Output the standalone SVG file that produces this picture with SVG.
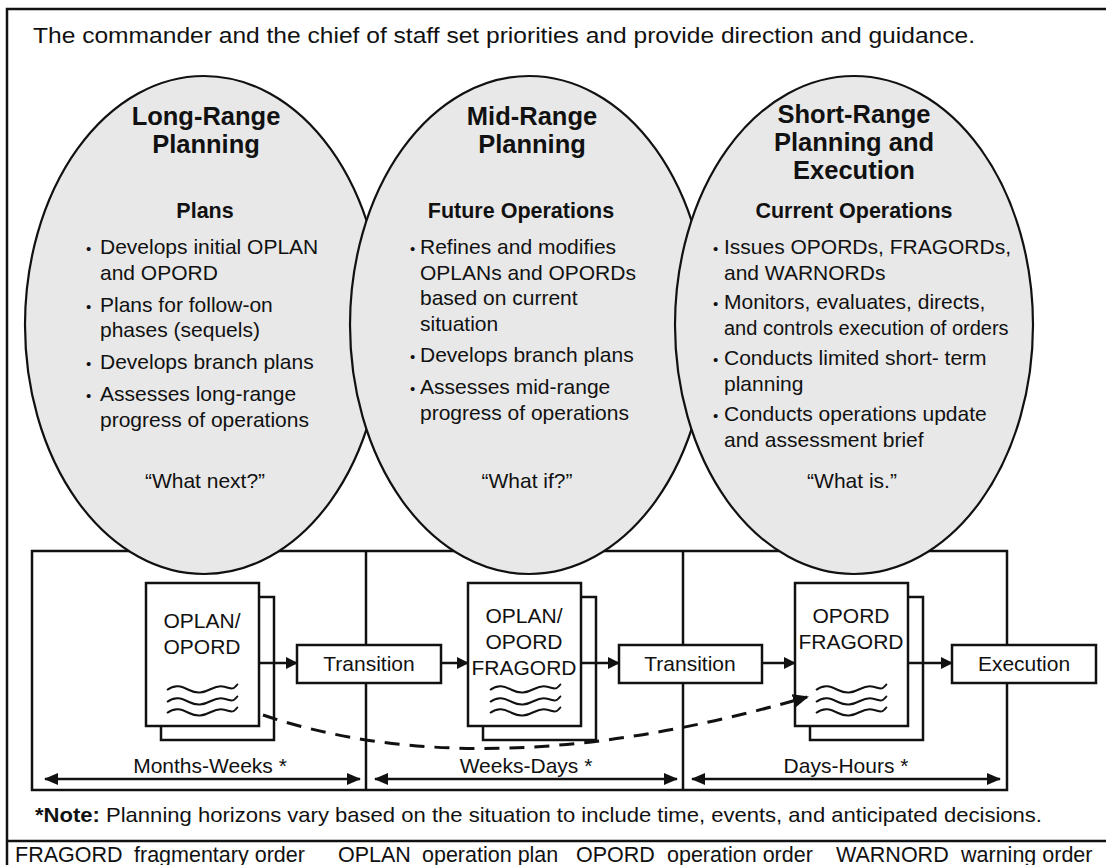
<svg xmlns="http://www.w3.org/2000/svg" width="1106" height="865" viewBox="0 0 1106 865">
<defs>
<style>
text{font-family:"Liberation Sans",Arial,sans-serif;fill:#111;}
.t{font-size:21px;}
.lg{font-size:21.5px;}
.h{font-size:25.5px;font-weight:bold;text-anchor:middle;}
.s{font-size:21.5px;font-weight:bold;text-anchor:middle;}
.c{text-anchor:middle;}
.bu{font-size:15px;}
.ell{fill:#e8e8e8;stroke:#111;stroke-width:2.2;}
.box{fill:#fff;stroke:#111;stroke-width:2.5;}
.ln{fill:none;stroke:#111;stroke-width:2.5;}
.wav{fill:none;stroke:#111;stroke-width:2;}
.dash{fill:none;stroke:#111;stroke-width:3;stroke-dasharray:15 10;}
</style>
<marker id="ah" viewBox="0 0 12 12" refX="11" refY="6" markerWidth="12" markerHeight="12" markerUnits="userSpaceOnUse" orient="auto-start-reverse"><path d="M0,0 L12,6 L0,12 z" fill="#111"/></marker>
<marker id="ah2" viewBox="0 0 14 12" refX="13" refY="6" markerWidth="14" markerHeight="12" markerUnits="userSpaceOnUse" orient="auto-start-reverse"><path d="M0,0 L14,6 L0,12 z" fill="#111"/></marker>
<marker id="ahd" viewBox="0 0 16 14" refX="14" refY="7" markerWidth="16" markerHeight="14" markerUnits="userSpaceOnUse" orient="auto"><path d="M0,0 L16,7 L0,14 z" fill="#111"/></marker>
<path id="wave" d="M0,2 c8,-6 14,-4 22,0 s14,3 22,-1 s12,-3 18,-1 s6,-2 9,-4" class="wav"/>
</defs>
<rect width="1106" height="865" fill="#fff"/>
<g id="frame">
<path d="M1106,9 H7 V865" class="ln"/>
<line x1="7" y1="841" x2="1106" y2="841" class="ln"/>
</g>
<text id="title" x="33" y="43" class="t" style="font-size:22.5px" textLength="942" lengthAdjust="spacingAndGlyphs">The commander and the chief of staff set priorities and provide direction and guidance.</text>
<g id="timeline-box">
<rect x="32" y="551" width="975" height="239" class="ln"/>
<line x1="366" y1="551" x2="366" y2="790" class="ln"/>
<line x1="683" y1="551" x2="683" y2="790" class="ln"/>
</g>
<g id="long-range">
<ellipse cx="204" cy="325" rx="179" ry="249" class="ell"/>
<text x="206" y="125" class="h">Long-Range</text>
<text x="206" y="153" class="h">Planning</text>
<text x="205" y="218" class="s">Plans</text>
<text class="t" y="254"><tspan x="86" class="bu">•</tspan><tspan x="100">Develops initial OPLAN</tspan></text>
<text class="t" x="100" y="279.5">and OPORD</text>
<text class="t" y="311.5"><tspan x="86" class="bu">•</tspan><tspan x="100">Plans for follow-on</tspan></text>
<text class="t" x="100" y="337">phases (sequels)</text>
<text class="t" y="369"><tspan x="86" class="bu">•</tspan><tspan x="100">Develops branch plans</tspan></text>
<text class="t" y="401"><tspan x="86" class="bu">•</tspan><tspan x="100">Assesses long-range</tspan></text>
<text class="t" x="100" y="426.5">progress of operations</text>
<text class="t c" x="205" y="488">“What next?”</text>
</g>
<g id="mid-range">
<ellipse cx="529" cy="325" rx="179" ry="249" class="ell"/>
<text x="532" y="125" class="h">Mid-Range</text>
<text x="532" y="153" class="h">Planning</text>
<text x="521" y="218" class="s">Future Operations</text>
<text class="t" y="254"><tspan x="410" class="bu">•</tspan><tspan x="420">Refines and modifies</tspan></text>
<text class="t" x="420" y="279.5">OPLANs and OPORDs</text>
<text class="t" x="420" y="305">based on current</text>
<text class="t" x="420" y="330.5">situation</text>
<text class="t" y="362"><tspan x="410" class="bu">•</tspan><tspan x="420">Develops branch plans</tspan></text>
<text class="t" y="394"><tspan x="410" class="bu">•</tspan><tspan x="420">Assesses mid-range</tspan></text>
<text class="t" x="420" y="419.5">progress of operations</text>
<text class="t c" x="527" y="488">“What if?”</text>
</g>
<g id="short-range">
<ellipse cx="854" cy="325" rx="179" ry="249" class="ell"/>
<text x="854" y="123" class="h">Short-Range</text>
<text x="854" y="151" class="h">Planning and</text>
<text x="854" y="179" class="h">Execution</text>
<text x="854" y="218" class="s">Current Operations</text>
<text class="t" y="254"><tspan x="713" class="bu">•</tspan><tspan x="724">Issues OPORDs, FRAGORDs,</tspan></text>
<text class="t" x="724" y="279.5">and WARNORDs</text>
<text class="t" y="309"><tspan x="713" class="bu">•</tspan><tspan x="724">Monitors, evaluates, directs,</tspan></text>
<text class="t" x="724" y="334.5" style="font-size:20px">and controls execution of orders</text>
<text class="t" y="365"><tspan x="713" class="bu">•</tspan><tspan x="724">Conducts limited short- term</tspan></text>
<text class="t" x="724" y="390.5">planning</text>
<text class="t" y="421"><tspan x="713" class="bu">•</tspan><tspan x="724">Conducts operations update</tspan></text>
<text class="t" x="724" y="446.5">and assessment brief</text>
<text class="t c" x="852" y="488">“What is.”</text>
</g>
<g id="doc1">
<rect x="161" y="597" width="113" height="143" class="box"/>
<rect x="146" y="583" width="113" height="143" class="box"/>
<text class="t c" x="202" y="628">OPLAN/</text>
<text class="t c" x="202" y="654">OPORD</text>
<use href="#wave" x="167" y="688"/>
<use href="#wave" x="167" y="700"/>
<use href="#wave" x="167" y="711"/>
</g>
<g id="transition1">
<rect x="297" y="645" width="144" height="38" class="box"/>
<text class="t c" x="369" y="671">Transition</text>
</g>
<g id="doc2">
<rect x="483" y="597" width="113" height="143" class="box"/>
<rect x="468" y="583" width="113" height="143" class="box"/>
<text class="t c" x="524" y="623">OPLAN/</text>
<text class="t c" x="524" y="649">OPORD</text>
<text class="t c" x="524" y="675">FRAGORD</text>
<use href="#wave" x="490" y="688"/>
<use href="#wave" x="490" y="700"/>
<use href="#wave" x="490" y="711"/>
</g>
<g id="transition2">
<rect x="619" y="645" width="143" height="38" class="box"/>
<text class="t c" x="690" y="671">Transition</text>
</g>
<g id="doc3">
<rect x="810" y="597" width="113" height="143" class="box"/>
<rect x="795" y="583" width="113" height="143" class="box"/>
<text class="t c" x="851" y="623">OPORD</text>
<text class="t c" x="851" y="649">FRAGORD</text>
<use href="#wave" x="816" y="688"/>
<use href="#wave" x="816" y="700"/>
<use href="#wave" x="816" y="711"/>
</g>
<g id="execution">
<rect x="952" y="645" width="144" height="38" class="box"/>
<text class="t c" x="1024" y="671">Execution</text>
</g>
<g id="connectors">
<line x1="259" y1="663" x2="297" y2="663" class="ln" marker-end="url(#ah)"/>
<line x1="441" y1="663" x2="468" y2="663" class="ln" marker-end="url(#ah)"/>
<line x1="581" y1="663" x2="619" y2="663" class="ln" marker-end="url(#ah)"/>
<line x1="762" y1="663" x2="795" y2="663" class="ln" marker-end="url(#ah)"/>
<line x1="908" y1="663" x2="952" y2="663" class="ln" marker-end="url(#ah)"/>
<path d="M263,715 Q486,790 807,697" class="dash" marker-end="url(#ahd)"/>
<line x1="45" y1="779" x2="360" y2="779" class="ln" marker-start="url(#ah2)" marker-end="url(#ah2)"/>
<line x1="375" y1="779" x2="677" y2="779" class="ln" marker-start="url(#ah2)" marker-end="url(#ah2)"/>
<line x1="692" y1="779" x2="1000" y2="779" class="ln" marker-start="url(#ah2)" marker-end="url(#ah2)"/>
</g>
<g id="horizons">
<text class="t c" x="210" y="773">Months-Weeks *</text>
<text class="t c" x="526" y="773">Weeks-Days *</text>
<text class="t c" x="846" y="773">Days-Hours *</text>
</g>
<text id="note" class="t" x="35" y="822" textLength="1007" lengthAdjust="spacingAndGlyphs"><tspan font-weight="bold">*Note:</tspan> Planning horizons vary based on the situation to include time, events, and anticipated decisions.</text>
<g id="legend">
<text class="lg" x="15" y="862">FRAGORD</text><text class="lg" x="134" y="862">fragmentary order</text>
<text class="lg" x="338" y="862">OPLAN</text><text class="lg" x="422" y="862">operation plan</text>
<text class="lg" x="576" y="862">OPORD</text><text class="lg" x="667" y="862">operation order</text>
<text class="lg" x="836" y="862">WARNORD</text><text class="lg" x="961" y="862">warning order</text>
</g>
</svg>
